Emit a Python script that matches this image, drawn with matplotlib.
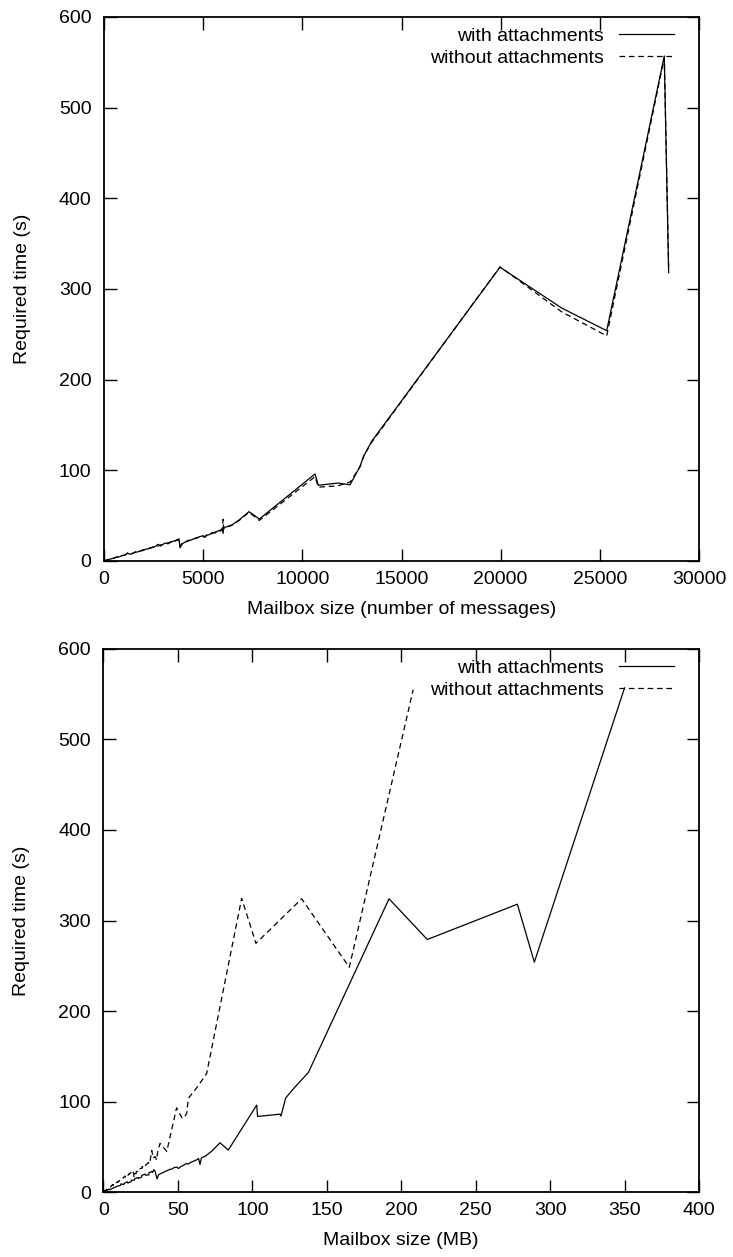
import numpy as np
import matplotlib
matplotlib.use("Agg")
import matplotlib.pyplot as plt

plt.rcParams['font.family'] = ['Liberation Sans', 'DejaVu Sans']

# one entry per mailbox: message count, size in MB and time needed,
# measured once with attachments and once without
messages = [0, 60, 150, 260, 380, 500, 640, 780, 900, 1050, 1180, 1300, 1420, 1560,
            1700, 1830, 1950, 2080, 2200, 2340, 2470, 2600, 2720, 2850, 2980, 3100,
            3230, 3360, 3480, 3600, 3700, 3780, 3832, 3950, 4080, 4200, 4330, 4450,
            4580, 4700, 4830, 4950, 5080, 5200, 5330, 5460, 5600, 5720, 5850, 5960,
            6005, 6030, 6200, 6437, 6800, 7311, 7832, 10639, 10807, 11800, 12404,
            12900, 13100, 13497, 19967, 23076, 25346, 28250, 28470]

size_with = [0, 0.5, 1.9, 1.6, 4.1, 3.8, 6.4, 6.6, 8.9, 9.0, 11.6, 11.4, 13.7, 13.8,
             16.3, 16.2, 18.6, 18.6, 20.8, 20.9, 23.4, 23.3, 25.7, 25.6, 28.2, 28.0,
             30.5, 30.5, 32.8, 32.6, 34.6, 33.9, 36.0, 37.0, 38.9, 40.2, 41.3, 43.1,
             44.4, 46.0, 47.3, 49.2, 50.4, 52.3, 53.5, 55.6, 56.7, 58.9, 60.2, 62.6,
             64.8, 63.9, 65.8, 68.5, 72.6, 78.3, 83.8, 102.9, 103.5, 118.6, 119.2,
             122.4, 128.6, 137.6, 191.8, 217.5, 289.4, 350.0, 278.0]

time_with = [0, 0.6, 1.1, 1.9, 2.4, 3.3, 4.2, 4.6, 6.0, 6.3, 8.9, 7.4, 8.3, 9.6,
             10.0, 11.2, 11.4, 13.0, 13.1, 14.6, 15.0, 16.1, 18.4, 16.5, 18.6, 19.8,
             18.9, 21.3, 21.6, 22.7, 23.0, 24.6, 14.5, 19.0, 20.8, 21.6, 22.7, 23.8,
             25.0, 25.3, 26.9, 27.6, 26.0, 28.5, 29.2, 31.6, 30.8, 33.0, 33.8, 35.6,
             30.5, 37.0, 37.8, 39.7, 45.0, 54.4, 46.3, 96.0, 83.5, 86.0, 84.0,
             104.0, 116.0, 132.0, 324.0, 279.0, 254.0, 557.0, 318.0]

size_without = [0, 0.3, 1.1, 1.0, 2.3, 2.2, 3.7, 3.7, 5.0, 5.1, 6.5, 6.4, 7.8, 7.8,
                9.3, 9.2, 10.6, 10.5, 11.9, 11.8, 13.3, 13.2, 14.7, 14.5, 16.1, 15.8,
                17.5, 17.3, 18.8, 18.6, 19.9, 19.6, 20.6, 20.9, 21.9, 22.0, 23.2, 23.3,
                24.6, 24.6, 25.9, 26.0, 27.2, 27.3, 28.5, 28.6, 29.9, 29.9, 31.2, 31.0,
                32.4, 35.7, 33.4, 34.6, 36.4, 38.0, 42.5, 49.1, 52.9, 54.5, 55.9,
                57.0, 63.0, 69.3, 92.8, 102.4, 165.1, 208.0, 133.1]

time_without = [0, 0.4, 1.3, 1.7, 2.7, 3.0, 4.5, 4.9, 5.7, 6.8, 7.6, 8.3, 8.0, 9.9,
                10.4, 10.9, 12.3, 12.5, 13.8, 14.0, 15.6, 15.9, 16.4, 17.8, 17.9, 19.1,
                20.0, 20.4, 22.6, 21.9, 23.6, 22.5, 16.0, 20.1, 20.4, 22.5, 22.9, 24.6,
                24.6, 26.0, 26.3, 28.1, 27.0, 29.0, 29.6, 30.3, 32.0, 31.8, 33.0, 34.2,
                46.0, 35.4, 37.4, 39.2, 44.5, 53.8, 44.8, 93.0, 81.4, 83.0, 87.0,
                103.5, 116.0, 131.0, 324.5, 274.8, 248.3, 555.0, 324.0]

labels = ['with attachments', 'without attachments']


def sorted_by(x, y):
    x = np.array(x)
    y = np.array(y)
    order = np.argsort(x, kind='stable')
    return x[order], y[order]


def style_axes(ax, xmax, xstep, xlabel):
    ax.set_xlim(0, xmax)
    ax.set_ylim(0, 600)
    ax.set_xticks(np.arange(0, xmax + 1, xstep))
    ax.set_yticks(np.arange(0, 601, 100))
    ax.tick_params(direction='in', length=9, width=1, top=True, right=True,
                   labelsize=14, colors='black')
    ax.tick_params(axis='x', pad=7)
    ax.tick_params(axis='y', pad=9)
    for s in ax.spines.values():
        s.set_linewidth(1.3)
    ax.set_xlabel(xlabel, fontsize=14)
    ax.set_ylabel('Required time (s)', fontsize=14)
    ax.xaxis.set_label_coords(0.5, -0.074)
    ax.yaxis.set_label_coords(-0.123, 0.5)
    ax.legend(loc='upper right', bbox_to_anchor=(0.958, 0.981), frameon=False,
              markerfirst=False, handlelength=2.85, handletextpad=0.75,
              labelspacing=0.22, borderaxespad=0, borderpad=0, fontsize=14)


fig = plt.figure(figsize=(7.33, 12.57), dpi=100)
ax1 = fig.add_axes([0.1419, 0.5537, 0.8117, 0.4328])
ax2 = fig.add_axes([0.1412, 0.0517, 0.8124, 0.4320])

dash = (0, (4.5, 3))

x, y = sorted_by(messages, time_with)
ax1.plot(x, y, color='black', lw=0.9, label=labels[0])
x, y = sorted_by(messages, time_without)
ax1.plot(x, y, color='black', lw=0.9, linestyle=dash, label=labels[1])
style_axes(ax1, 30000, 5000, 'Mailbox size (number of messages)')

x, y = sorted_by(size_with, time_with)
ax2.plot(x, y, color='black', lw=0.9, label=labels[0])
x, y = sorted_by(size_without, time_without)
ax2.plot(x, y, color='black', lw=0.9, linestyle=dash, label=labels[1])
style_axes(ax2, 400, 50, 'Mailbox size (MB)')

fig.savefig('out.png', dpi=100)
